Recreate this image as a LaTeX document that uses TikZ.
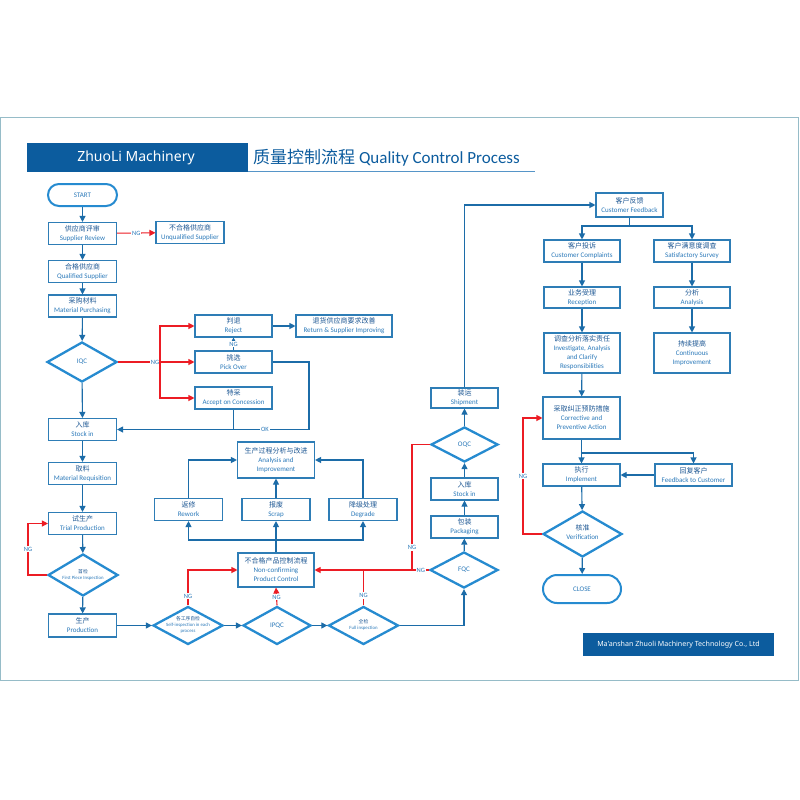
\documentclass[tikz,border=0pt]{standalone}
\usepackage{fontspec}
\setmainfont{Carlito}
\newfontfamily\cjk{Noto Sans CJK SC}
\newfontfamily\headfont{Noto Sans}
\usetikzlibrary{shapes.geometric, arrows.meta}
\definecolor{barblue}{RGB}{12, 92, 158}
\definecolor{boxline}{RGB}{46, 125, 182}
\definecolor{dialine}{RGB}{38, 139, 208}
\definecolor{arrowc}{RGB}{28, 108, 168}
\definecolor{ngred}{RGB}{236, 28, 36}
\definecolor{zhc}{RGB}{30, 88, 148}
\definecolor{enc}{RGB}{44, 122, 186}
\definecolor{framec}{RGB}{150, 188, 200}
\newcommand{\bitext}[2]{\textcolor{zhc}{\cjk #1}\\#2}
\newcommand{\flatstack}[1]{\raisebox{-1.2pt}[0pt][0pt]{%
    \begin{tabular}{@{}c@{}}#1\end{tabular}}}
\tikzset{
    stepbox/.style={draw=boxline, line width=1.1pt, fill=white,
        minimum width=68pt, minimum height=22pt, inner sep=0.5pt,
        align=center, text=enc, font=\fontsize{7}{9}\selectfont},
    qcdia/.style={diamond, aspect=2, draw=dialine, line width=2.3pt,
        fill=white, minimum width=70pt, minimum height=40pt, inner sep=0pt,
        text=enc, font=\fontsize{7}{8.5}\selectfont},
    termbox/.style={draw=dialine, line width=2pt, fill=white,
        rounded corners=11pt, minimum width=69pt, minimum height=22pt,
        text=enc, font=\fontsize{7}{8}\selectfont},
    flow/.style={draw=arrowc, line width=1.1pt,
        -{Triangle[length=6pt, width=6pt]}},
    plainflow/.style={draw=arrowc, line width=1.1pt},
    ngflow/.style={draw=ngred, line width=1.1pt,
        -{Triangle[length=6pt, width=6pt]}},
    ngline/.style={draw=ngred, line width=1.1pt},
    nglabel/.style={fill=white, text=enc, inner sep=1pt,
        font=\fontsize{6.5}{7}\selectfont},
}

\begin{document}
\begin{tikzpicture}[x=1pt, y=-1pt]
    \useasboundingbox (0, 0) rectangle (800, 800);
    \fill[white] (0, 0) rectangle (800, 800);
    \draw[framec, line width=0.8pt] (0.5, 117) rectangle (798, 680);

    % header and footer
    \fill[barblue] (27, 143) rectangle (248, 172);
    \node[text=white, font=\headfont\fontsize{14}{16}\selectfont] (brand)
        at (136, 157.5) {ZhuoLi Machinery};
    \draw[enc!80, line width=1.4pt] (248, 171.5) -- (535, 171.5);
    \node[anchor=west, text=barblue, inner sep=0pt,
        font=\fontsize{17}{19}\selectfont] (title) at (253, 158)
        {{\cjk 质量控制流程} Quality Control Process};
    \fill[barblue] (583, 633) rectangle (774, 656);
    \node[text=white, font=\headfont\fontsize{7.1}{8}\selectfont] (company)
        at (678.5, 644.5) {Ma'anshan Zhuoli Machinery Technology Co., Ltd};

    % incoming material
    \node[termbox] (start) at (82.5, 195) {START};
    \node[stepbox] (suprev) at (82.5, 233.5) {\bitext{供应商评审}{Supplier Review}};
    \node[stepbox] (unqual) at (190, 232.5) {\bitext{不合格供应商}{Unqualified Supplier}};
    \node[stepbox] (qualsup) at (82.5, 271.5) {\bitext{合格供应商}{Qualified Supplier}};
    \node[stepbox] (matpur) at (82.5, 306) {\bitext{采购材料}{Material Purchasing}};
    \node[qcdia] (iqc) at (82, 362) {IQC};
    \node[stepbox, minimum width=77pt] (reject) at (233.5, 326) {\bitext{判退}{Reject}};
    \node[stepbox, minimum width=96pt] (returnimp) at (344, 326)
        {\bitext{退货供应商要求改善}{Return \& Supplier Improving}};
    \node[stepbox, minimum width=77pt] (pickover) at (233.5, 362) {\bitext{挑选}{Pick Over}};
    \node[stepbox, minimum width=77pt] (concession) at (233.5, 398)
        {\bitext{特采}{Accept on Concession}};
    \node[stepbox] (stockin) at (82.5, 429.5) {\bitext{入库}{Stock in}};
    \node[stepbox] (matreq) at (82.5, 473.5) {\bitext{取料}{Material Requisition}};
    \node[stepbox] (trial) at (82.5, 523.5) {\bitext{试生产}{Trial Production}};
    \node[qcdia, minimum height=42pt, font=\fontsize{4.8}{6}\selectfont] (firstpiece)
        at (83, 575) {\flatstack{\textcolor{zhc}{\cjk 首检}\\First Piece Inspection}};
    \node[stepbox, minimum height=23pt] (production) at (82.5, 625.5)
        {\bitext{生产}{Production}};

    % production checks
    \node[qcdia, minimum height=38pt, font=\fontsize{4.8}{5.8}\selectfont] (selfinsp)
        at (188, 625.5)
        {\flatstack{\textcolor{zhc}{\cjk 各工序自检}\\Self-inspection in each\\process}};
    \node[qcdia, minimum width=68pt, minimum height=38pt] (ipqc) at (277, 625.5) {IPQC};
    \node[qcdia, minimum height=38pt, font=\fontsize{4.8}{6}\selectfont] (fullinsp)
        at (363.5, 625.5) {\flatstack{\textcolor{zhc}{\cjk 全检}\\Full inspection}};
    \node[stepbox, minimum width=76pt, minimum height=34pt] (nonconf) at (276, 570)
        {\bitext{不合格产品控制流程}{Non-confirming\\Product Control}};
    \node[stepbox] (rework) at (188.5, 509.5) {\bitext{返修}{Rework}};
    \node[stepbox] (scrap) at (276, 509.5) {\bitext{报废}{Scrap}};
    \node[stepbox] (degrade) at (363, 509.5) {\bitext{降级处理}{Degrade}};
    \node[stepbox, minimum width=77pt, minimum height=36pt] (analysis) at (276, 460)
        {\bitext{生产过程分析与改进}{Analysis and\\Improvement}};

    % final checks
    \node[qcdia, minimum width=68pt, minimum height=36pt] (fqc) at (464, 570) {FQC};
    \node[stepbox, minimum width=67pt] (packaging) at (464.5, 527) {\bitext{包装}{Packaging}};
    \node[stepbox, minimum width=67pt] (stockout) at (464.5, 489) {\bitext{入库}{Stock in}};
    \node[qcdia, minimum width=67pt, minimum height=35pt] (oqc) at (464.5, 444.5) {OQC};
    \node[stepbox, minimum width=67pt, minimum height=20pt] (shipment) at (464.5, 398)
        {\bitext{装运}{Shipment}};

    % customer side
    \node[stepbox, minimum width=67pt, minimum height=24pt] (custfb) at (629.5, 205)
        {\bitext{客户反馈}{Customer Feedback}};
    \node[stepbox, minimum width=76pt] (complaints) at (582, 251)
        {\bitext{客户投诉}{Customer Complaints}};
    \node[stepbox, minimum width=76pt] (survey) at (692, 251)
        {\bitext{客户满意度调查}{Satisfactory Survey}};
    \node[stepbox, minimum width=76pt, minimum height=21pt] (reception) at (582, 297.5)
        {\bitext{业务受理}{Reception}};
    \node[stepbox, minimum width=76pt, minimum height=21pt] (custanalysis) at (692, 297.5)
        {\bitext{分析}{Analysis}};
    \node[stepbox, minimum width=76pt, minimum height=40pt] (investigate) at (582, 353)
        {\bitext{调查分析落实责任}{Investigate, Analysis\\and Clarify\\Responsibilities}};
    \node[stepbox, minimum width=76pt, minimum height=40pt] (contimp) at (692, 353)
        {\bitext{持续提高}{Continuous\\Improvement}};
    \node[stepbox, minimum width=77pt, minimum height=42pt] (corrective) at (581.5, 418)
        {\bitext{采取纠正预防措施}{Corrective and\\Preventive Action}};
    \node[stepbox, minimum width=77pt] (implement) at (581.5, 475) {\bitext{执行}{Implement}};
    \node[stepbox, minimum width=77pt] (fbcust) at (693.5, 475)
        {\bitext{回复客户}{Feedback to Customer}};
    \node[qcdia, minimum width=79pt, minimum height=46pt] (verification) at (582.5, 534)
        {\flatstack{\textcolor{zhc}{\cjk 核准}\\Verification}};
    \node[termbox, minimum width=78pt, minimum height=28pt, rounded corners=14pt]
        (close) at (582, 589) {CLOSE};

    \coordinate (iqcsplit) at (160, 362);
    \coordinate (okturn) at (309, 429.5);
    \coordinate (fploop) at (28, 575);
    \coordinate (ncsplit) at (276, 540);
    \coordinate (oqcdrop) at (412, 570);
    \coordinate (cfsplit) at (629.5, 226);
    \coordinate (capsplit) at (581.5, 453);
    \coordinate (verloop) at (523, 534);

    % main flow
    \draw[flow] (start) -- (suprev);
    \draw[flow] (suprev) -- (qualsup);
    \draw[flow] (qualsup) -- (matpur);
    \draw[flow] (matpur) -- (iqc);
    \draw[flow] (iqc) -- (stockin);
    \draw[flow] (stockin) -- (matreq);
    \draw[flow] (matreq) -- (trial);
    \draw[flow] (trial) -- (firstpiece);
    \draw[flow] (firstpiece) -- (production);
    \draw[flow] (production) -- (selfinsp);
    \draw[flow] (selfinsp) -- (ipqc);
    \draw[flow] (ipqc) -- (fullinsp);
    \draw[flow] (fullinsp.east) -| (fqc.south);
    \draw[flow] (fqc) -- (packaging);
    \draw[flow] (packaging) -- (stockout);
    \draw[flow] (stockout) -- (oqc);
    \draw[flow] (oqc) -- (shipment);
    \draw[flow] (shipment.north) |- (custfb.west);
    \draw[plainflow] (custfb.south) -- (cfsplit);
    \draw[flow] (cfsplit) -| (complaints.north);
    \draw[flow] (cfsplit) -| (survey.north);
    \draw[flow] (complaints) -- (reception);
    \draw[flow] (reception) -- (investigate);
    \draw[flow] (investigate) -- (corrective);
    \draw[flow] (survey) -- (custanalysis);
    \draw[flow] (custanalysis) -- (contimp);
    \draw[flow] (corrective) -- (implement);
    \draw[flow] (capsplit) -| (fbcust.north);
    \draw[flow] (fbcust) -- (implement);
    \draw[flow] (implement) -- (verification);
    \draw[flow] (verification) -- (close);

    % IQC branches
    \draw[ngflow] (suprev) -- node[nglabel] {NG} (unqual);
    \draw[ngline] (iqc.east) -- node[nglabel, pos=0.88] {NG} (iqcsplit);
    \draw[ngflow] (iqcsplit) |- (reject.west);
    \draw[ngflow] (iqcsplit) -- (pickover.west);
    \draw[ngflow] (iqcsplit) |- (concession.west);
    \draw[flow, -{Triangle[length=3.5pt, width=3.5pt]}] (pickover) --
        node[nglabel] {NG} (reject);
    \draw[flow] (reject) -- (returnimp);
    \draw[flow] (pickover.east) -| (okturn) -- node[nglabel, pos=0.23] {OK}
        (stockin.east);
    \draw[plainflow] (concession.south) -- (concession.south |- okturn);
    \draw[ngflow] (firstpiece.west) -- (fploop) |- node[nglabel, pos=0.25] {NG}
        (trial.west);

    % non-conforming product
    \draw[ngflow] (selfinsp.north) |- node[nglabel, pos=0.13] {NG} (nonconf.west);
    \draw[ngflow] (ipqc.north) -- node[nglabel, pos=0.45] {NG} (nonconf.south);
    \draw[ngline] (fullinsp.north) -- node[nglabel, pos=0.28] {NG}
        (fullinsp.north |- nonconf.east);
    \draw[ngflow] (fqc.west) -- node[nglabel, pos=0.07] {NG} (nonconf.east);
    \draw[ngline] (oqc.west) -| node[nglabel, pos=0.91] {NG} (oqcdrop);
    \draw[plainflow] (nonconf.north) -- (ncsplit);
    \draw[flow] (ncsplit) -| (rework.south);
    \draw[flow] (ncsplit) -- (scrap.south);
    \draw[flow] (ncsplit) -| (degrade.south);
    \draw[flow] (rework.north) |- (analysis.west);
    \draw[flow] (scrap) -- (analysis);
    \draw[flow] (degrade.north) |- (analysis.east);

    % verification loop
    \draw[ngflow] (verification.west) -- (verloop) |- node[nglabel, pos=0.25] {NG}
        (corrective.west);
\end{tikzpicture}
\end{document}
